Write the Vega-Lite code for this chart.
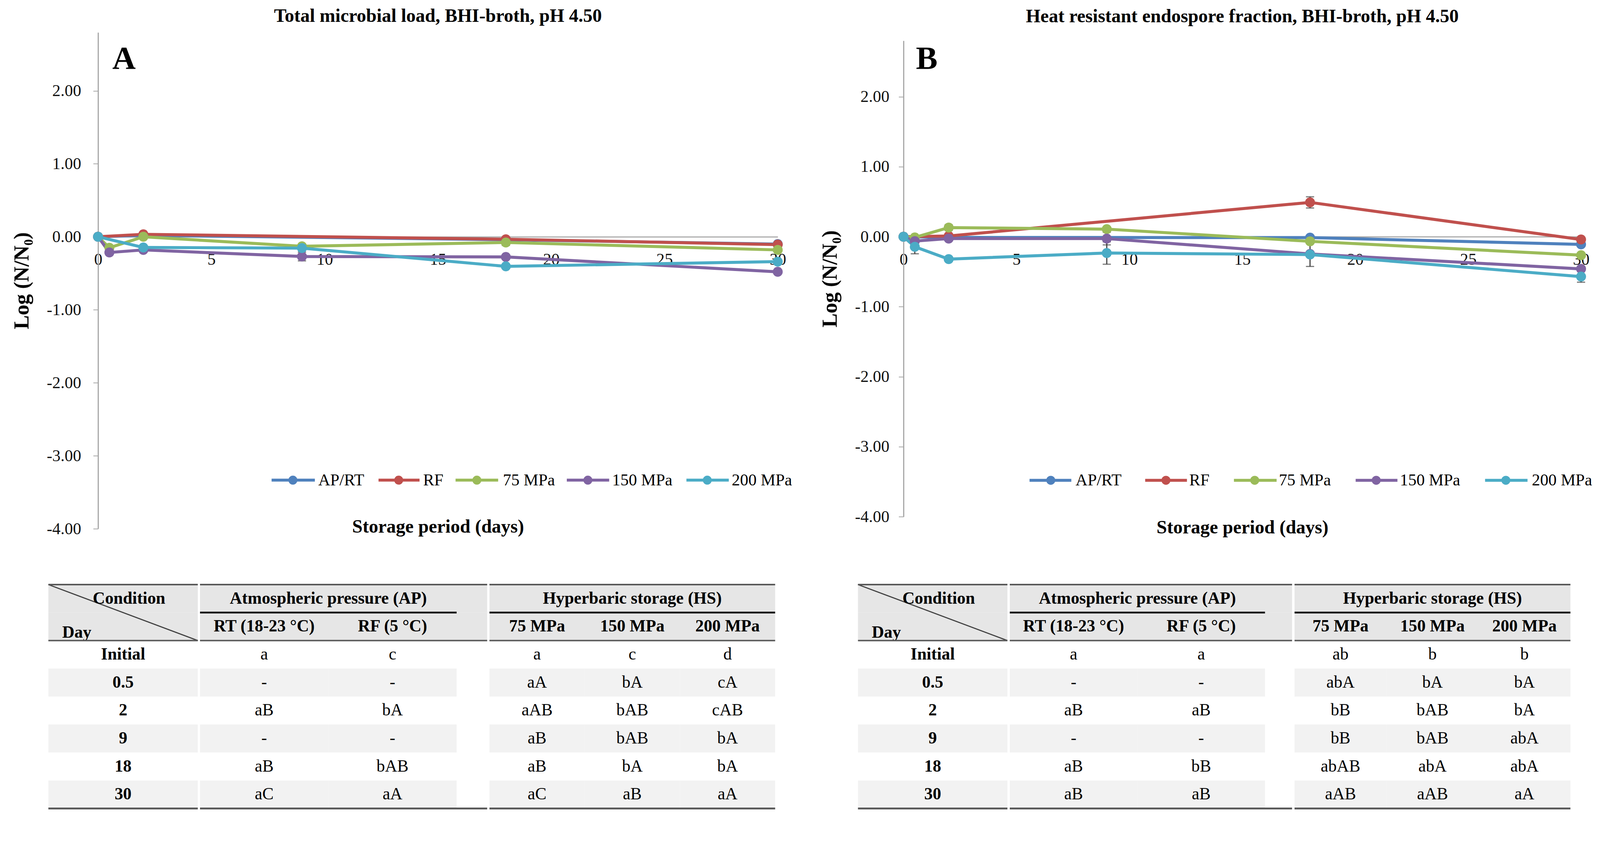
{
"$schema": "https://vega.github.io/schema/vega-lite/v6.json",
"background": "white",
"padding": {"left": 29, "top": 18, "right": 5, "bottom": 5},
"config": {
  "font": "Liberation Serif",
  "view": {"stroke": null},
  "title": {"fontSize": 48, "fontWeight": "bold", "color": "#000", "font": "Liberation Serif", "anchor": "middle", "baseline": "alphabetic"},
  "axisBand": {"disable": true},
  "axis": {"labelFont": "Liberation Serif", "titleFont": "Liberation Serif", "labelColor": "#111", "titleColor": "#000"},
  "text": {"font": "Liberation Serif", "color": "#000"}
},
"datasets": {
  "lineA": [
    {"s":"AP/RT","day":0,"v":0},{"s":"AP/RT","day":2,"v":0.02},{"s":"AP/RT","day":18,"v":-0.04},{"s":"AP/RT","day":30,"v":-0.1},
    {"s":"RF","day":0,"v":0},{"s":"RF","day":2,"v":0.034},{"s":"RF","day":18,"v":-0.034},{"s":"RF","day":30,"v":-0.107},
    {"s":"75 MPa","day":0,"v":0},{"s":"75 MPa","day":0.5,"v":-0.15},{"s":"75 MPa","day":2,"v":0.0},{"s":"75 MPa","day":9,"v":-0.13},{"s":"75 MPa","day":18,"v":-0.078,"err":0.04},{"s":"75 MPa","day":30,"v":-0.18},
    {"s":"150 MPa","day":0,"v":0},{"s":"150 MPa","day":0.5,"v":-0.215},{"s":"150 MPa","day":2,"v":-0.18},{"s":"150 MPa","day":9,"v":-0.27,"err":0.06},{"s":"150 MPa","day":18,"v":-0.276},{"s":"150 MPa","day":30,"v":-0.48},
    {"s":"200 MPa","day":0,"v":0},{"s":"200 MPa","day":2,"v":-0.146},{"s":"200 MPa","day":9,"v":-0.155},{"s":"200 MPa","day":18,"v":-0.405},{"s":"200 MPa","day":30,"v":-0.34}
  ],
  "lineB": [
    {"s":"AP/RT","day":0,"v":0},{"s":"AP/RT","day":2,"v":-0.01},{"s":"AP/RT","day":18,"v":-0.013},{"s":"AP/RT","day":30,"v":-0.11},
    {"s":"RF","day":0,"v":0},{"s":"RF","day":2,"v":0.01},{"s":"RF","day":18,"v":0.49,"err":0.08},{"s":"RF","day":30,"v":-0.04},
    {"s":"75 MPa","day":0,"v":0},{"s":"75 MPa","day":0.5,"v":-0.01},{"s":"75 MPa","day":2,"v":0.13,"err":0.04},{"s":"75 MPa","day":9,"v":0.108},{"s":"75 MPa","day":18,"v":-0.066},{"s":"75 MPa","day":30,"v":-0.264},
    {"s":"150 MPa","day":0,"v":0},{"s":"150 MPa","day":0.5,"v":-0.063},{"s":"150 MPa","day":2,"v":-0.027},{"s":"150 MPa","day":9,"v":-0.027,"err":0.09},{"s":"150 MPa","day":18,"v":-0.246},{"s":"150 MPa","day":30,"v":-0.46},
    {"s":"200 MPa","day":0,"v":0},{"s":"200 MPa","day":0.5,"v":-0.144,"err":0.1},{"s":"200 MPa","day":2,"v":-0.32},{"s":"200 MPa","day":9,"v":-0.233,"err":0.16},{"s":"200 MPa","day":18,"v":-0.255,"err":0.17},{"s":"200 MPa","day":30,"v":-0.57,"err":0.08}
  ],
  "rowsT": [{"row":"Initial"},{"row":"0.5"},{"row":"2"},{"row":"9"},{"row":"18"},{"row":"30"}],
  "hdrRows": [{"row":"h1"},{"row":"h2"}],
  "colsAP": [{"col":"RT","label":"RT (18-23 °C)"},{"col":"RF","label":"RF (5 °C)"}],
  "colsHS": [{"col":"75","label":"75 MPa"},{"col":"150","label":"150 MPa"},{"col":"200","label":"200 MPa"}],
  "tabA": [
    {"row":"Initial","col":"RT","v":"a"},{"row":"Initial","col":"RF","v":"c"},{"row":"Initial","col":"75","v":"a"},{"row":"Initial","col":"150","v":"c"},{"row":"Initial","col":"200","v":"d"},
    {"row":"0.5","col":"RT","v":"-"},{"row":"0.5","col":"RF","v":"-"},{"row":"0.5","col":"75","v":"aA"},{"row":"0.5","col":"150","v":"bA"},{"row":"0.5","col":"200","v":"cA"},
    {"row":"2","col":"RT","v":"aB"},{"row":"2","col":"RF","v":"bA"},{"row":"2","col":"75","v":"aAB"},{"row":"2","col":"150","v":"bAB"},{"row":"2","col":"200","v":"cAB"},
    {"row":"9","col":"RT","v":"-"},{"row":"9","col":"RF","v":"-"},{"row":"9","col":"75","v":"aB"},{"row":"9","col":"150","v":"bAB"},{"row":"9","col":"200","v":"bA"},
    {"row":"18","col":"RT","v":"aB"},{"row":"18","col":"RF","v":"bAB"},{"row":"18","col":"75","v":"aB"},{"row":"18","col":"150","v":"bA"},{"row":"18","col":"200","v":"bA"},
    {"row":"30","col":"RT","v":"aC"},{"row":"30","col":"RF","v":"aA"},{"row":"30","col":"75","v":"aC"},{"row":"30","col":"150","v":"aB"},{"row":"30","col":"200","v":"aA"}
  ],
  "tabB": [
    {"row":"Initial","col":"RT","v":"a"},{"row":"Initial","col":"RF","v":"a"},{"row":"Initial","col":"75","v":"ab"},{"row":"Initial","col":"150","v":"b"},{"row":"Initial","col":"200","v":"b"},
    {"row":"0.5","col":"RT","v":"-"},{"row":"0.5","col":"RF","v":"-"},{"row":"0.5","col":"75","v":"abA"},{"row":"0.5","col":"150","v":"bA"},{"row":"0.5","col":"200","v":"bA"},
    {"row":"2","col":"RT","v":"aB"},{"row":"2","col":"RF","v":"aB"},{"row":"2","col":"75","v":"bB"},{"row":"2","col":"150","v":"bAB"},{"row":"2","col":"200","v":"bA"},
    {"row":"9","col":"RT","v":"-"},{"row":"9","col":"RF","v":"-"},{"row":"9","col":"75","v":"bB"},{"row":"9","col":"150","v":"bAB"},{"row":"9","col":"200","v":"abA"},
    {"row":"18","col":"RT","v":"aB"},{"row":"18","col":"RF","v":"bB"},{"row":"18","col":"75","v":"abAB"},{"row":"18","col":"150","v":"abA"},{"row":"18","col":"200","v":"abA"},
    {"row":"30","col":"RT","v":"aB"},{"row":"30","col":"RF","v":"aB"},{"row":"30","col":"75","v":"aAB"},{"row":"30","col":"150","v":"aAB"},{"row":"30","col":"200","v":"aA"}
  ]
},
"columns": 2,
"align": "none",
"spacing": 70,
"resolve": {"scale": {"fill": "independent", "stroke": "independent"}},
"concat": [
  {
    "columns": 1,
    "align": "none",
    "spacing": 119,
    "resolve": {"scale": {"fill": "independent", "stroke": "independent"}},
    "concat": [
      {
        "width": 1740, "height": 1271,
        "title": {"text": "Total microbial load, BHI-broth, pH 4.50", "offset": 17},
        "layer": [
          {"data": {"name": "lineA"}, "transform": [{"filter": "datum.err > 0"}], "mark": {"type": "errorbar", "ticks": true, "size": 21, "thickness": 2.9, "color": "#404040"},
           "encoding": {
             "x": {"field": "day", "type": "quantitative", "scale": {"domain": [0, 30], "nice": false, "zero": false},
                   "axis": {"offset": -747.6, "values": [0,5,10,15,20,25,30], "format": "d", "ticks": false, "domainColor": "#A6A6A6", "domainWidth": 2.9, "grid": false, "labelFontSize": 42.4, "labelPadding": 38.5, "labelFlush": false, "title": "Storage period (days)", "titleFontSize": 48, "titleFontWeight": "bold", "titleY": 757, "titleBaseline": "alphabetic"}},
             "y": {"field": "v", "type": "quantitative", "scale": {"domain": [-4, 2.8], "nice": false, "zero": false},
                   "axis": {"values": [-4,-3,-2,-1,0,1,2], "labelExpr": "replace(format(datum.value, '.2f'), '\u2212', '-')", "grid": false, "domainColor": "#A6A6A6", "domainWidth": 2.9, "tickColor": "#A6A6A6", "tickWidth": 2, "tickSize": 12.5, "labelFontSize": 42.4, "labelPadding": 31, "title": "Log (N/N\u2080)", "titleFontSize": 54, "titleFontWeight": "bold", "titlePadding": 36}},
             "yError": {"field": "err"}}},
          {"data": {"name": "lineA"}, "mark": {"type": "line", "strokeWidth": 7.7},
           "encoding": {"x": {"field": "day", "type": "quantitative"}, "y": {"field": "v", "type": "quantitative"},
             "stroke": {"field": "s", "type": "nominal", "scale": {"domain": ["AP/RT","RF","75 MPa","150 MPa","200 MPa"], "range": ["#4F81BD","#C0504D","#9BBB59","#8064A2","#4BACC6"]}, "legend": null}}},
          {"data": {"name": "lineA"}, "mark": {"type": "point", "filled": true, "opacity": 1, "size": 650},
           "encoding": {"x": {"field": "day", "type": "quantitative"}, "y": {"field": "v", "type": "quantitative"},
             "fill": {"field": "s", "type": "nominal", "scale": {"domain": ["AP/RT","RF","75 MPa","150 MPa","200 MPa"], "range": ["#4F81BD","#C0504D","#9BBB59","#8064A2","#4BACC6"]}, "legend": null}}},
          {"data": {"values": [{"panel": "A"}]}, "mark": {"type": "text", "fontSize": 83, "fontWeight": "bold", "align": "left", "baseline": "alphabetic", "color": "#000"},
           "encoding": {"x": {"datum": 0.63, "type": "quantitative"}, "y": {"datum": 2.3, "type": "quantitative"}, "text": {"field": "panel", "type": "nominal"}}},
          {"data": {"values": [{}]}, "encoding": {"y": {"datum": -3.334, "type": "quantitative"}}, "layer": [
            {"mark": {"type": "rule", "strokeWidth": 7.7}, "encoding": {"x": {"datum": 7.66, "type": "quantitative"}, "x2": {"datum": 9.57}, "stroke": {"datum": "AP/RT", "type": "nominal", "legend": null}}},
            {"mark": {"type": "point", "filled": true, "opacity": 1, "size": 530}, "encoding": {"x": {"datum": 8.6, "type": "quantitative"}, "fill": {"datum": "AP/RT", "type": "nominal", "legend": null}}},
            {"mark": {"type": "text", "align": "left", "baseline": "middle", "fontSize": 42.4}, "encoding": {"x": {"datum": 9.72, "type": "quantitative"}, "text": {"datum": "AP/RT"}}},
            {"mark": {"type": "rule", "strokeWidth": 7.7}, "encoding": {"x": {"datum": 12.38, "type": "quantitative"}, "x2": {"datum": 14.19}, "stroke": {"datum": "RF", "type": "nominal", "legend": null}}},
            {"mark": {"type": "point", "filled": true, "opacity": 1, "size": 530}, "encoding": {"x": {"datum": 13.27, "type": "quantitative"}, "fill": {"datum": "RF", "type": "nominal", "legend": null}}},
            {"mark": {"type": "text", "align": "left", "baseline": "middle", "fontSize": 42.4}, "encoding": {"x": {"datum": 14.35, "type": "quantitative"}, "text": {"datum": "RF"}}},
            {"mark": {"type": "rule", "strokeWidth": 7.7}, "encoding": {"x": {"datum": 15.78, "type": "quantitative"}, "x2": {"datum": 17.66}, "stroke": {"datum": "75 MPa", "type": "nominal", "legend": null}}},
            {"mark": {"type": "point", "filled": true, "opacity": 1, "size": 530}, "encoding": {"x": {"datum": 16.72, "type": "quantitative"}, "fill": {"datum": "75 MPa", "type": "nominal", "legend": null}}},
            {"mark": {"type": "text", "align": "left", "baseline": "middle", "fontSize": 42.4}, "encoding": {"x": {"datum": 17.87, "type": "quantitative"}, "text": {"datum": "75 MPa"}}},
            {"mark": {"type": "rule", "strokeWidth": 7.7}, "encoding": {"x": {"datum": 20.69, "type": "quantitative"}, "x2": {"datum": 22.56}, "stroke": {"datum": "150 MPa", "type": "nominal", "legend": null}}},
            {"mark": {"type": "point", "filled": true, "opacity": 1, "size": 530}, "encoding": {"x": {"datum": 21.62, "type": "quantitative"}, "fill": {"datum": "150 MPa", "type": "nominal", "legend": null}}},
            {"mark": {"type": "text", "align": "left", "baseline": "middle", "fontSize": 42.4}, "encoding": {"x": {"datum": 22.69, "type": "quantitative"}, "text": {"datum": "150 MPa"}}},
            {"mark": {"type": "rule", "strokeWidth": 7.7}, "encoding": {"x": {"datum": 25.97, "type": "quantitative"}, "x2": {"datum": 27.84}, "stroke": {"datum": "200 MPa", "type": "nominal", "legend": null}}},
            {"mark": {"type": "point", "filled": true, "opacity": 1, "size": 530}, "encoding": {"x": {"datum": 26.89, "type": "quantitative"}, "fill": {"datum": "200 MPa", "type": "nominal", "legend": null}}},
            {"mark": {"type": "text", "align": "left", "baseline": "middle", "fontSize": 42.4}, "encoding": {"x": {"datum": 27.97, "type": "quantitative"}, "text": {"datum": "200 MPa"}}}
          ]}
        ]
      },
      {
        "spacing": 0,
        "hconcat": [
          {
            "width": 255.4, "height": 573.3,
            "layer": [
              {"data": {"name": "hdrRows"}, "mark": {"type": "rect", "color": "#E6E6E6"}, "encoding": {"x": {"datum": "Day", "type": "nominal", "bandPosition": 0, "scale": {"type": "band", "domain": ["Day"], "range": [-127.2, 255.4], "paddingInner": 0, "paddingOuter": 0}}, "x2": {"datum": "Day", "bandPosition": 1}, "y": {"field": "row", "type": "nominal", "scale": {"type": "band", "domain": ["h1","h2","Initial","0.5","2","9","18","30"], "paddingInner": 0, "paddingOuter": 0}}}},
              {"data": {"name": "rowsT"}, "transform": [{"filter": "indexof(['0.5','9','30'], datum.row) >= 0"}], "mark": {"type": "rect", "color": "#F2F2F2"}, "encoding": {"x": {"datum": "Day", "type": "nominal", "bandPosition": 0}, "x2": {"datum": "Day", "bandPosition": 1}, "y": {"field": "row", "type": "nominal"}}},
              {"data": {"values": [{}]}, "mark": {"type": "rule", "color": "#404040", "strokeWidth": 2.9}, "encoding": {"x": {"datum": "Day", "type": "nominal", "bandPosition": 0}, "x2": {"datum": "Day", "bandPosition": 1}, "y": {"datum": "h1", "type": "nominal", "bandPosition": 0}, "y2": {"datum": "h2", "bandPosition": 1}}},
              {"data": {"values": [{}]}, "mark": {"type": "text", "text": "Condition", "fontSize": 43.4, "fontWeight": "bold"}, "encoding": {"x": {"datum": "Day", "type": "nominal", "bandPosition": 0.54}, "y": {"datum": "h1", "type": "nominal"}}},
              {"data": {"values": [{}]}, "mark": {"type": "text", "text": "Day", "fontSize": 43.4, "fontWeight": "bold"}, "encoding": {"x": {"datum": "Day", "type": "nominal", "bandPosition": 0.19}, "y": {"datum": "h2", "type": "nominal", "bandPosition": 0.72}}},
              {"data": {"name": "rowsT"}, "mark": {"type": "text", "fontSize": 43.4, "fontWeight": "bold"}, "encoding": {"x": {"datum": "Day", "type": "nominal"}, "y": {"field": "row", "type": "nominal"}, "text": {"field": "row"}}},
              {"data": {"values": [{}]}, "mark": {"type": "rule", "color": "#595959", "strokeWidth": 3.85}, "encoding": {"x": {"datum": "Day", "type": "nominal", "bandPosition": 0}, "x2": {"datum": "Day", "bandPosition": 1}, "y": {"datum": "h1", "type": "nominal", "bandPosition": 0}}},
              {"data": {"values": [{}]}, "mark": {"type": "rule", "color": "#595959", "strokeWidth": 3.85}, "encoding": {"x": {"datum": "Day", "type": "nominal", "bandPosition": 0}, "x2": {"datum": "Day", "bandPosition": 1}, "y": {"datum": "Initial", "type": "nominal", "bandPosition": 0}}},
              {"data": {"values": [{}]}, "mark": {"type": "rule", "color": "#595959", "strokeWidth": 4.8}, "encoding": {"x": {"datum": "Day", "type": "nominal", "bandPosition": 0}, "x2": {"datum": "Day", "bandPosition": 1}, "y": {"datum": "30", "type": "nominal", "bandPosition": 1}}}
            ]
          },
          {
            "width": 735.2, "height": 573.3,
            "layer": [
              {"data": {"name": "hdrRows"}, "mark": {"type": "rect", "color": "#E6E6E6"}, "encoding": {"y": {"field": "row", "type": "nominal", "scale": {"type": "band", "domain": ["h1","h2","Initial","0.5","2","9","18","30"], "paddingInner": 0, "paddingOuter": 0}}}},
              {"data": {"name": "tabA"}, "transform": [{"filter": "(datum.col == 'RT' || datum.col == 'RF') && indexof(['0.5','9','30'], datum.row) >= 0"}], "mark": {"type": "rect", "color": "#F2F2F2"}, "encoding": {"x": {"field": "col", "type": "nominal", "scale": {"type": "band", "domain": ["RT","RF"], "paddingInner": 0, "paddingOuter": 0.119, "align": 0}}, "y": {"field": "row", "type": "nominal"}}},
              {"data": {"values": [{}]}, "mark": {"type": "rule", "color": "#1A1A1A", "strokeWidth": 4.8}, "encoding": {"x": {"datum": "RT", "type": "nominal", "bandPosition": 0}, "x2": {"datum": "RF", "bandPosition": 1}, "y": {"datum": "h2", "type": "nominal", "bandPosition": 0}}},
              {"data": {"values": [{}]}, "mark": {"type": "text", "text": "Atmospheric pressure (AP)", "fontSize": 43.4, "fontWeight": "bold"}, "encoding": {"x": {"datum": "RF", "type": "nominal", "bandPosition": 0}, "y": {"datum": "h1", "type": "nominal"}}},
              {"data": {"name": "colsAP"}, "mark": {"type": "text", "fontSize": 43.4, "fontWeight": "bold"}, "encoding": {"x": {"field": "col", "type": "nominal"}, "y": {"datum": "h2", "type": "nominal"}, "text": {"field": "label"}}},
              {"data": {"name": "tabA"}, "transform": [{"filter": "datum.col == 'RT' || datum.col == 'RF'"}], "mark": {"type": "text", "fontSize": 43.4}, "encoding": {"x": {"field": "col", "type": "nominal"}, "y": {"field": "row", "type": "nominal"}, "text": {"field": "v"}}},
              {"data": {"values": [{}]}, "mark": {"type": "rule", "color": "#595959", "strokeWidth": 3.85}, "encoding": {"y": {"datum": "h1", "type": "nominal", "bandPosition": 0}}},
              {"data": {"values": [{}]}, "mark": {"type": "rule", "color": "#595959", "strokeWidth": 3.85}, "encoding": {"y": {"datum": "Initial", "type": "nominal", "bandPosition": 0}}},
              {"data": {"values": [{}]}, "mark": {"type": "rule", "color": "#595959", "strokeWidth": 4.8}, "encoding": {"y": {"datum": "30", "type": "nominal", "bandPosition": 1}}}
            ]
          },
          {
            "width": 731.4, "height": 573.3,
            "layer": [
              {"data": {"name": "hdrRows"}, "mark": {"type": "rect", "color": "#E6E6E6"}, "encoding": {"y": {"field": "row", "type": "nominal", "scale": {"type": "band", "domain": ["h1","h2","Initial","0.5","2","9","18","30"], "paddingInner": 0, "paddingOuter": 0}}}},
              {"data": {"name": "tabA"}, "transform": [{"filter": "(datum.col == '75' || datum.col == '150' || datum.col == '200') && indexof(['0.5','9','30'], datum.row) >= 0"}], "mark": {"type": "rect", "color": "#F2F2F2"}, "encoding": {"x": {"field": "col", "type": "nominal", "scale": {"type": "band", "domain": ["75","150","200"], "paddingInner": 0, "paddingOuter": 0}}, "y": {"field": "row", "type": "nominal"}}},
              {"data": {"values": [{}]}, "mark": {"type": "rule", "color": "#1A1A1A", "strokeWidth": 4.8}, "encoding": {"x": {"datum": "75", "type": "nominal", "bandPosition": 0}, "x2": {"datum": "200", "bandPosition": 1}, "y": {"datum": "h2", "type": "nominal", "bandPosition": 0}}},
              {"data": {"values": [{}]}, "mark": {"type": "text", "text": "Hyperbaric storage (HS)", "fontSize": 43.4, "fontWeight": "bold"}, "encoding": {"x": {"datum": "150", "type": "nominal"}, "y": {"datum": "h1", "type": "nominal"}}},
              {"data": {"name": "colsHS"}, "mark": {"type": "text", "fontSize": 43.4, "fontWeight": "bold"}, "encoding": {"x": {"field": "col", "type": "nominal"}, "y": {"datum": "h2", "type": "nominal"}, "text": {"field": "label"}}},
              {"data": {"name": "tabA"}, "transform": [{"filter": "datum.col == '75' || datum.col == '150' || datum.col == '200'"}], "mark": {"type": "text", "fontSize": 43.4}, "encoding": {"x": {"field": "col", "type": "nominal"}, "y": {"field": "row", "type": "nominal"}, "text": {"field": "v"}}},
              {"data": {"values": [{}]}, "mark": {"type": "rule", "color": "#595959", "strokeWidth": 3.85}, "encoding": {"y": {"datum": "h1", "type": "nominal", "bandPosition": 0}}},
              {"data": {"values": [{}]}, "mark": {"type": "rule", "color": "#595959", "strokeWidth": 3.85}, "encoding": {"y": {"datum": "Initial", "type": "nominal", "bandPosition": 0}}},
              {"data": {"values": [{}]}, "mark": {"type": "rule", "color": "#595959", "strokeWidth": 4.8}, "encoding": {"y": {"datum": "30", "type": "nominal", "bandPosition": 1}}}
            ]
          }
        ]
      }
    ]
  },
  {
    "columns": 1,
    "align": "none",
    "spacing": 119,
    "resolve": {"scale": {"fill": "independent", "stroke": "independent"}},
    "concat": [
      {
        "width": 1734.5, "height": 1240.2,
        "title": {"text": "Heat resistant endospore fraction, BHI-broth, pH 4.50", "offset": 16.4},
        "layer": [
          {"data": {"name": "lineB"}, "transform": [{"filter": "datum.err > 0"}], "mark": {"type": "errorbar", "ticks": true, "size": 21, "thickness": 2.9, "color": "#404040"},
           "encoding": {
             "x": {"field": "day", "type": "quantitative", "scale": {"domain": [0, 30], "nice": false, "zero": false},
                   "axis": {"offset": -717.1, "values": [0,5,10,15,20,25,30], "format": "d", "ticks": false, "domainColor": "#A6A6A6", "domainWidth": 2.9, "grid": false, "labelFontSize": 42.4, "labelPadding": 38.5, "labelFlush": false, "title": "Storage period (days)", "titleFontSize": 48, "titleFontWeight": "bold", "titleY": 759.3, "titleBaseline": "alphabetic"}},
             "y": {"field": "v", "type": "quantitative", "scale": {"domain": [-4, 2.8], "range": [1240.2, 21.2], "nice": false, "zero": false},
                   "axis": {"values": [-4,-3,-2,-1,0,1,2], "labelExpr": "replace(format(datum.value, '.2f'), '\u2212', '-')", "grid": false, "domainColor": "#A6A6A6", "domainWidth": 2.9, "tickColor": "#A6A6A6", "tickWidth": 2, "tickSize": 12.5, "labelFontSize": 42.4, "labelPadding": 24, "title": "Log (N/N\u2080)", "titleFontSize": 54, "titleFontWeight": "bold", "titlePadding": 36}},
             "yError": {"field": "err"}}},
          {"data": {"name": "lineB"}, "mark": {"type": "line", "strokeWidth": 7.7},
           "encoding": {"x": {"field": "day", "type": "quantitative"}, "y": {"field": "v", "type": "quantitative"},
             "stroke": {"field": "s", "type": "nominal", "scale": {"domain": ["AP/RT","RF","75 MPa","150 MPa","200 MPa"], "range": ["#4F81BD","#C0504D","#9BBB59","#8064A2","#4BACC6"]}, "legend": null}}},
          {"data": {"name": "lineB"}, "mark": {"type": "point", "filled": true, "opacity": 1, "size": 650},
           "encoding": {"x": {"field": "day", "type": "quantitative"}, "y": {"field": "v", "type": "quantitative"},
             "fill": {"field": "s", "type": "nominal", "scale": {"domain": ["AP/RT","RF","75 MPa","150 MPa","200 MPa"], "range": ["#4F81BD","#C0504D","#9BBB59","#8064A2","#4BACC6"]}, "legend": null}}},
          {"data": {"values": [{"panel": "B"}]}, "mark": {"type": "text", "fontSize": 83, "fontWeight": "bold", "align": "left", "baseline": "alphabetic", "color": "#000"},
           "encoding": {"x": {"datum": 0.55, "type": "quantitative"}, "y": {"datum": 2.4, "type": "quantitative"}, "text": {"field": "panel", "type": "nominal"}}},
          {"data": {"values": [{}]}, "encoding": {"y": {"datum": -3.48, "type": "quantitative"}}, "layer": [
            {"mark": {"type": "rule", "strokeWidth": 7.7}, "encoding": {"x": {"datum": 5.58, "type": "quantitative"}, "x2": {"datum": 7.43}, "stroke": {"datum": "AP/RT", "type": "nominal", "legend": null}}},
            {"mark": {"type": "point", "filled": true, "opacity": 1, "size": 530}, "encoding": {"x": {"datum": 6.52, "type": "quantitative"}, "fill": {"datum": "AP/RT", "type": "nominal", "legend": null}}},
            {"mark": {"type": "text", "align": "left", "baseline": "middle", "fontSize": 42.4}, "encoding": {"x": {"datum": 7.62, "type": "quantitative"}, "text": {"datum": "AP/RT"}}},
            {"mark": {"type": "rule", "strokeWidth": 7.7}, "encoding": {"x": {"datum": 10.7, "type": "quantitative"}, "x2": {"datum": 12.55}, "stroke": {"datum": "RF", "type": "nominal", "legend": null}}},
            {"mark": {"type": "point", "filled": true, "opacity": 1, "size": 530}, "encoding": {"x": {"datum": 11.62, "type": "quantitative"}, "fill": {"datum": "RF", "type": "nominal", "legend": null}}},
            {"mark": {"type": "text", "align": "left", "baseline": "middle", "fontSize": 42.4}, "encoding": {"x": {"datum": 12.65, "type": "quantitative"}, "text": {"datum": "RF"}}},
            {"mark": {"type": "rule", "strokeWidth": 7.7}, "encoding": {"x": {"datum": 14.63, "type": "quantitative"}, "x2": {"datum": 16.52}, "stroke": {"datum": "75 MPa", "type": "nominal", "legend": null}}},
            {"mark": {"type": "point", "filled": true, "opacity": 1, "size": 530}, "encoding": {"x": {"datum": 15.55, "type": "quantitative"}, "fill": {"datum": "75 MPa", "type": "nominal", "legend": null}}},
            {"mark": {"type": "text", "align": "left", "baseline": "middle", "fontSize": 42.4}, "encoding": {"x": {"datum": 16.62, "type": "quantitative"}, "text": {"datum": "75 MPa"}}},
            {"mark": {"type": "rule", "strokeWidth": 7.7}, "encoding": {"x": {"datum": 20.02, "type": "quantitative"}, "x2": {"datum": 21.87}, "stroke": {"datum": "150 MPa", "type": "nominal", "legend": null}}},
            {"mark": {"type": "point", "filled": true, "opacity": 1, "size": 530}, "encoding": {"x": {"datum": 20.93, "type": "quantitative"}, "fill": {"datum": "150 MPa", "type": "nominal", "legend": null}}},
            {"mark": {"type": "text", "align": "left", "baseline": "middle", "fontSize": 42.4}, "encoding": {"x": {"datum": 21.98, "type": "quantitative"}, "text": {"datum": "150 MPa"}}},
            {"mark": {"type": "rule", "strokeWidth": 7.7}, "encoding": {"x": {"datum": 25.75, "type": "quantitative"}, "x2": {"datum": 27.63}, "stroke": {"datum": "200 MPa", "type": "nominal", "legend": null}}},
            {"mark": {"type": "point", "filled": true, "opacity": 1, "size": 530}, "encoding": {"x": {"datum": 26.67, "type": "quantitative"}, "fill": {"datum": "200 MPa", "type": "nominal", "legend": null}}},
            {"mark": {"type": "text", "align": "left", "baseline": "middle", "fontSize": 42.4}, "encoding": {"x": {"datum": 27.82, "type": "quantitative"}, "text": {"datum": "200 MPa"}}}
          ]}
        ]
      },
      {
        "spacing": 0,
        "hconcat": [
          {
            "width": 266, "height": 573.3,
            "layer": [
              {"data": {"name": "hdrRows"}, "mark": {"type": "rect", "color": "#E6E6E6"}, "encoding": {"x": {"datum": "Day", "type": "nominal", "bandPosition": 0, "scale": {"type": "band", "domain": ["Day"], "range": [-116.6, 266], "paddingInner": 0, "paddingOuter": 0}}, "x2": {"datum": "Day", "bandPosition": 1}, "y": {"field": "row", "type": "nominal", "scale": {"type": "band", "domain": ["h1","h2","Initial","0.5","2","9","18","30"], "paddingInner": 0, "paddingOuter": 0}}}},
              {"data": {"name": "rowsT"}, "transform": [{"filter": "indexof(['0.5','9','30'], datum.row) >= 0"}], "mark": {"type": "rect", "color": "#F2F2F2"}, "encoding": {"x": {"datum": "Day", "type": "nominal", "bandPosition": 0}, "x2": {"datum": "Day", "bandPosition": 1}, "y": {"field": "row", "type": "nominal"}}},
              {"data": {"values": [{}]}, "mark": {"type": "rule", "color": "#404040", "strokeWidth": 2.9}, "encoding": {"x": {"datum": "Day", "type": "nominal", "bandPosition": 0}, "x2": {"datum": "Day", "bandPosition": 1}, "y": {"datum": "h1", "type": "nominal", "bandPosition": 0}, "y2": {"datum": "h2", "bandPosition": 1}}},
              {"data": {"values": [{}]}, "mark": {"type": "text", "text": "Condition", "fontSize": 43.4, "fontWeight": "bold"}, "encoding": {"x": {"datum": "Day", "type": "nominal", "bandPosition": 0.54}, "y": {"datum": "h1", "type": "nominal"}}},
              {"data": {"values": [{}]}, "mark": {"type": "text", "text": "Day", "fontSize": 43.4, "fontWeight": "bold"}, "encoding": {"x": {"datum": "Day", "type": "nominal", "bandPosition": 0.19}, "y": {"datum": "h2", "type": "nominal", "bandPosition": 0.72}}},
              {"data": {"name": "rowsT"}, "mark": {"type": "text", "fontSize": 43.4, "fontWeight": "bold"}, "encoding": {"x": {"datum": "Day", "type": "nominal"}, "y": {"field": "row", "type": "nominal"}, "text": {"field": "row"}}},
              {"data": {"values": [{}]}, "mark": {"type": "rule", "color": "#595959", "strokeWidth": 3.85}, "encoding": {"x": {"datum": "Day", "type": "nominal", "bandPosition": 0}, "x2": {"datum": "Day", "bandPosition": 1}, "y": {"datum": "h1", "type": "nominal", "bandPosition": 0}}},
              {"data": {"values": [{}]}, "mark": {"type": "rule", "color": "#595959", "strokeWidth": 3.85}, "encoding": {"x": {"datum": "Day", "type": "nominal", "bandPosition": 0}, "x2": {"datum": "Day", "bandPosition": 1}, "y": {"datum": "Initial", "type": "nominal", "bandPosition": 0}}},
              {"data": {"values": [{}]}, "mark": {"type": "rule", "color": "#595959", "strokeWidth": 4.8}, "encoding": {"x": {"datum": "Day", "type": "nominal", "bandPosition": 0}, "x2": {"datum": "Day", "bandPosition": 1}, "y": {"datum": "30", "type": "nominal", "bandPosition": 1}}}
            ]
          },
          {
            "width": 722.7, "height": 573.3,
            "layer": [
              {"data": {"name": "hdrRows"}, "mark": {"type": "rect", "color": "#E6E6E6"}, "encoding": {"y": {"field": "row", "type": "nominal", "scale": {"type": "band", "domain": ["h1","h2","Initial","0.5","2","9","18","30"], "paddingInner": 0, "paddingOuter": 0}}}},
              {"data": {"name": "tabB"}, "transform": [{"filter": "(datum.col == 'RT' || datum.col == 'RF') && indexof(['0.5','9','30'], datum.row) >= 0"}], "mark": {"type": "rect", "color": "#F2F2F2"}, "encoding": {"x": {"field": "col", "type": "nominal", "scale": {"type": "band", "domain": ["RT","RF"], "paddingInner": 0, "paddingOuter": 0.106, "align": 0}}, "y": {"field": "row", "type": "nominal"}}},
              {"data": {"values": [{}]}, "mark": {"type": "rule", "color": "#1A1A1A", "strokeWidth": 4.8}, "encoding": {"x": {"datum": "RT", "type": "nominal", "bandPosition": 0}, "x2": {"datum": "RF", "bandPosition": 1}, "y": {"datum": "h2", "type": "nominal", "bandPosition": 0}}},
              {"data": {"values": [{}]}, "mark": {"type": "text", "text": "Atmospheric pressure (AP)", "fontSize": 43.4, "fontWeight": "bold"}, "encoding": {"x": {"datum": "RF", "type": "nominal", "bandPosition": 0}, "y": {"datum": "h1", "type": "nominal"}}},
              {"data": {"name": "colsAP"}, "mark": {"type": "text", "fontSize": 43.4, "fontWeight": "bold"}, "encoding": {"x": {"field": "col", "type": "nominal"}, "y": {"datum": "h2", "type": "nominal"}, "text": {"field": "label"}}},
              {"data": {"name": "tabB"}, "transform": [{"filter": "datum.col == 'RT' || datum.col == 'RF'"}], "mark": {"type": "text", "fontSize": 43.4}, "encoding": {"x": {"field": "col", "type": "nominal"}, "y": {"field": "row", "type": "nominal"}, "text": {"field": "v"}}},
              {"data": {"values": [{}]}, "mark": {"type": "rule", "color": "#595959", "strokeWidth": 3.85}, "encoding": {"y": {"datum": "h1", "type": "nominal", "bandPosition": 0}}},
              {"data": {"values": [{}]}, "mark": {"type": "rule", "color": "#595959", "strokeWidth": 3.85}, "encoding": {"y": {"datum": "Initial", "type": "nominal", "bandPosition": 0}}},
              {"data": {"values": [{}]}, "mark": {"type": "rule", "color": "#595959", "strokeWidth": 4.8}, "encoding": {"y": {"datum": "30", "type": "nominal", "bandPosition": 1}}}
            ]
          },
          {
            "width": 706.3, "height": 573.3,
            "layer": [
              {"data": {"name": "hdrRows"}, "mark": {"type": "rect", "color": "#E6E6E6"}, "encoding": {"y": {"field": "row", "type": "nominal", "scale": {"type": "band", "domain": ["h1","h2","Initial","0.5","2","9","18","30"], "paddingInner": 0, "paddingOuter": 0}}}},
              {"data": {"name": "tabB"}, "transform": [{"filter": "(datum.col == '75' || datum.col == '150' || datum.col == '200') && indexof(['0.5','9','30'], datum.row) >= 0"}], "mark": {"type": "rect", "color": "#F2F2F2"}, "encoding": {"x": {"field": "col", "type": "nominal", "scale": {"type": "band", "domain": ["75","150","200"], "paddingInner": 0, "paddingOuter": 0}}, "y": {"field": "row", "type": "nominal"}}},
              {"data": {"values": [{}]}, "mark": {"type": "rule", "color": "#1A1A1A", "strokeWidth": 4.8}, "encoding": {"x": {"datum": "75", "type": "nominal", "bandPosition": 0}, "x2": {"datum": "200", "bandPosition": 1}, "y": {"datum": "h2", "type": "nominal", "bandPosition": 0}}},
              {"data": {"values": [{}]}, "mark": {"type": "text", "text": "Hyperbaric storage (HS)", "fontSize": 43.4, "fontWeight": "bold"}, "encoding": {"x": {"datum": "150", "type": "nominal"}, "y": {"datum": "h1", "type": "nominal"}}},
              {"data": {"name": "colsHS"}, "mark": {"type": "text", "fontSize": 43.4, "fontWeight": "bold"}, "encoding": {"x": {"field": "col", "type": "nominal"}, "y": {"datum": "h2", "type": "nominal"}, "text": {"field": "label"}}},
              {"data": {"name": "tabB"}, "transform": [{"filter": "datum.col == '75' || datum.col == '150' || datum.col == '200'"}], "mark": {"type": "text", "fontSize": 43.4}, "encoding": {"x": {"field": "col", "type": "nominal"}, "y": {"field": "row", "type": "nominal"}, "text": {"field": "v"}}},
              {"data": {"values": [{}]}, "mark": {"type": "rule", "color": "#595959", "strokeWidth": 3.85}, "encoding": {"y": {"datum": "h1", "type": "nominal", "bandPosition": 0}}},
              {"data": {"values": [{}]}, "mark": {"type": "rule", "color": "#595959", "strokeWidth": 3.85}, "encoding": {"y": {"datum": "Initial", "type": "nominal", "bandPosition": 0}}},
              {"data": {"values": [{}]}, "mark": {"type": "rule", "color": "#595959", "strokeWidth": 4.8}, "encoding": {"y": {"datum": "30", "type": "nominal", "bandPosition": 1}}}
            ]
          }
        ]
      }
    ]
  }
]
}
